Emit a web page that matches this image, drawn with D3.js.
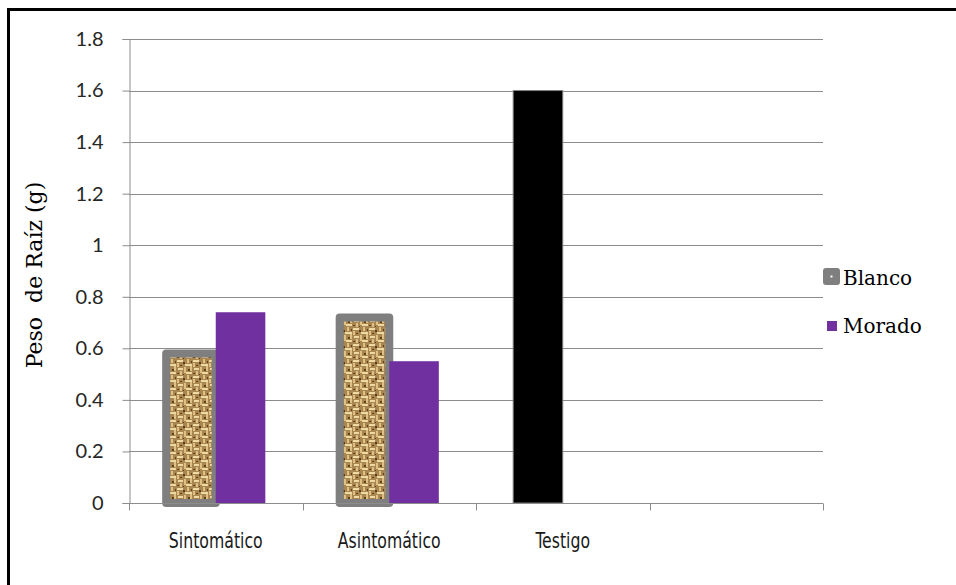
<!DOCTYPE html>
<html>
<head>
<meta charset="utf-8">
<script src="https://cdn.jsdelivr.net/npm/d3@7"></script>
<style>
  body { margin: 0; background: #fff; }
  svg { display: block; }
</style>
</head>
<body>
<script>
// Data
var categories = ["Sintomático", "Asintomático", "Testigo", ""];
var seriesNames = ["Blanco", "Morado"];
var blanco = [0.58, 0.72, 1.6, null];
var morado = [0.74, 0.55, null, null];
var yTicks = [0, 0.2, 0.4, 0.6, 0.8, 1, 1.2, 1.4, 1.6, 1.8];

// Dimensions
var W = 956, H = 585;
var margin = { top: 39, left: 129, right: 133, bottom: 82 },
    width = W - margin.left - margin.right,
    height = H - margin.top - margin.bottom;

var svg = d3.select("body").append("svg")
    .attr("width", W)
    .attr("height", H);

// woven (burlap) texture for Blanco
var defs = svg.append("defs");
var pat = defs.append("pattern")
    .attr("id", "burlap")
    .attr("patternUnits", "userSpaceOnUse")
    .attr("width", 16).attr("height", 16);
pat.append("rect").attr("width", 16).attr("height", 16).attr("fill", "#a98650");
function addRects(list, color) {
    list.forEach(function (r) {
        pat.append("rect").attr("x", r[0]).attr("y", r[1])
            .attr("width", r[2]).attr("height", r[3]).attr("fill", color);
    });
}
// light horizontal threads
addRects([[0, 1, 6, 2], [8, 5, 7, 2], [1, 9, 5, 2], [9, 13, 6, 2]], "#efd9a2");
// light vertical threads
addRects([[10, 0, 2, 4], [7, 8, 2, 6], [13, 7, 2, 5], [3, 12, 2, 4], [0, 4, 2, 4]], "#dcc084");
// dark spots
addRects([[6, 3, 2, 2], [14, 2, 1, 2], [3, 6, 2, 1], [11, 10, 2, 2], [6, 15, 1, 1], [0, 14, 2, 1]], "#5e4019");

// outer frame
svg.append("rect")
    .attr("x", 8.5).attr("y", 9.5)
    .attr("width", 1000).attr("height", 1000)
    .attr("fill", "none")
    .attr("stroke", "#000")
    .attr("stroke-width", 3);

var g = svg.append("g")
    .attr("transform", "translate(" + margin.left + "," + margin.top + ")");

// Scales
var x0 = d3.scaleBand().domain(categories).range([0, width]).padding(0);
var slot = x0.bandwidth();
var x1 = d3.scaleBand().domain(seriesNames)
    .range([slot * 0.75 / 3.5, slot * 2.75 / 3.5]).padding(0);
var y = d3.scaleLinear().domain([0, 1.8]).range([height, 0]);

// Gridlines
g.selectAll(".grid")
    .data(yTicks.filter(function (d) { return d > 0; }))
    .enter().append("line")
    .attr("x1", 0).attr("x2", width)
    .attr("y1", function (d) { return Math.round(y(d)) + 0.5; })
    .attr("y2", function (d) { return Math.round(y(d)) + 0.5; })
    .attr("stroke", "#8c8c8c").attr("stroke-width", 1);

// Y axis
var yAxis = g.append("g")
    .attr("transform", "translate(0.5,0)")
    .call(d3.axisLeft(y).tickValues(yTicks).tickSize(7).tickPadding(19)
        .tickFormat(function (d) { return String(d); }));
yAxis.select(".domain").attr("stroke", "#8c8c8c");
yAxis.selectAll(".tick line").attr("stroke", "#8c8c8c");
yAxis.selectAll(".tick text")
    .attr("fill", "#262626")
    .style("font-family", "Lato, 'Open Sans', sans-serif")
    .style("font-size", "20px");

// Bars: Blanco (textured, thick grey border)
var blancoData = categories.map(function (c, i) { return { cat: c, v: blanco[i] }; })
    .filter(function (d) { return d.v != null; });
var moradoData = categories.map(function (c, i) { return { cat: c, v: morado[i] }; })
    .filter(function (d) { return d.v != null; });

g.selectAll(".blanco")
    .data(blancoData)
    .enter().append("rect")
    .attr("class", "blanco")
    .attr("x", function (d) { return x0(d.cat) + x1("Blanco"); })
    .attr("width", x1.bandwidth())
    .attr("y", function (d) { return y(d.v); })
    .attr("height", function (d) { return y(0) - y(d.v); })
    .attr("fill", function (d) { return d.cat === "Testigo" ? "#000" : "url(#burlap)"; })
    .attr("stroke", "#7f7f7f")
    .attr("stroke-linejoin", "round")
    .attr("stroke-width", function (d) { return d.cat === "Testigo" ? 1 : 8; });

g.selectAll(".morado")
    .data(moradoData)
    .enter().append("rect")
    .attr("class", "morado")
    .attr("x", function (d) { return x0(d.cat) + x1("Morado"); })
    .attr("width", x1.bandwidth())
    .attr("y", function (d) { return y(d.v); })
    .attr("height", function (d) { return y(0) - y(d.v); })
    .attr("fill", "#7030a0");

// X axis
var xAxis = g.append("g")
    .attr("transform", "translate(0," + (height + 0.5) + ")");
xAxis.append("line")
    .attr("x1", 0).attr("x2", width)
    .attr("stroke", "#8c8c8c");
xAxis.selectAll(".xtick")
    .data(d3.range(categories.length + 1))
    .enter().append("line")
    .attr("x1", function (i) { return Math.round(i * slot) + 0.5; })
    .attr("x2", function (i) { return Math.round(i * slot) + 0.5; })
    .attr("y1", 0).attr("y2", 7)
    .attr("stroke", "#8c8c8c");
xAxis.selectAll(".xlabel")
    .data(categories)
    .enter().append("text")
    .attr("transform", function (d) {
        return "translate(" + (x0(d) + slot / 2) + ",44) scale(0.92,1.12)";
    })
    .attr("text-anchor", "middle")
    .attr("fill", "#1a1a1a")
    .style("font-family", "'Liberation Sans Narrow', 'DejaVu Sans Condensed', sans-serif")
    .style("font-size", "19px")
    .text(function (d) { return d; });

// Y axis label
svg.append("text")
    .attr("transform", "translate(42,275) rotate(-90)")
    .attr("text-anchor", "middle")
    .style("font-family", "'DejaVu Serif', serif")
    .style("font-size", "22px")
    .style("white-space", "pre")
    .text("Peso  de Raíz (g)");

// Legend
var legend = svg.append("g").attr("transform", "translate(823,268)");
legend.append("rect")
    .attr("x", 0).attr("y", 0).attr("width", 17).attr("height", 17)
    .attr("rx", 3).attr("fill", "#7f7f7f");
legend.append("rect")
    .attr("x", 7.5).attr("y", 7.5).attr("width", 2).attr("height", 2)
    .attr("fill", "#fff");
legend.append("rect")
    .attr("x", 4).attr("y", 53).attr("width", 10).attr("height", 10)
    .attr("fill", "#7030a0");
legend.selectAll(".ltext")
    .data(seriesNames)
    .enter().append("text")
    .attr("x", 20)
    .attr("y", function (d, i) { return 17 + i * 48; })
    .style("font-family", "'DejaVu Serif', serif")
    .style("font-size", "20px")
    .attr("fill", "#000")
    .text(function (d) { return d; });
</script>
</body>
</html>
